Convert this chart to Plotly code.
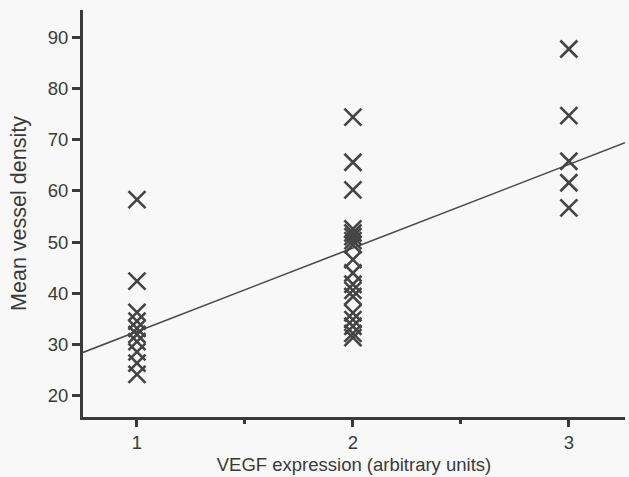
import plotly.graph_objects as go

# Data
vegf_1 = [58.3, 42.4, 36.3, 34.6, 33.2, 32.0, 30.6, 28.6, 26.4, 24.2]
vegf_2 = [74.4, 65.6, 60.2, 52.6, 51.8, 51.1, 50.3, 49.5, 46.6, 44.0,
          41.8, 40.6, 39.4, 36.2, 34.9, 33.6, 32.2, 31.4]
vegf_3 = [87.7, 74.7, 65.8, 61.6, 56.7]

fit_x = [0.75, 3.26]
fit_y = [28.5, 69.4]

x_tick_vals = [1, 2, 3]
y_tick_vals = [20, 30, 40, 50, 60, 70, 80, 90]

xs = [1] * len(vegf_1) + [2] * len(vegf_2) + [3] * len(vegf_3)
ys = vegf_1 + vegf_2 + vegf_3

ink = "#3a3a3a"

fig = go.Figure()
fig.add_trace(go.Scatter(
    x=fit_x, y=fit_y, mode="lines",
    line=dict(color="#4a4a4a", width=1.6),
    showlegend=False, hoverinfo="skip"))
fig.add_trace(go.Scatter(
    x=xs, y=ys, mode="markers",
    marker=dict(symbol="x-thin-open", size=17, color="#444444",
                line=dict(color="#444444", width=2.6)),
    showlegend=False))

font_fam = "Liberation Sans, Arial, sans-serif"
fig.update_layout(
    width=629, height=477,
    margin=dict(l=83, r=4, t=10, b=60),
    paper_bgcolor="#f8f8f8", plot_bgcolor="#f8f8f8",
    font=dict(family=font_fam, size=18, color=ink),
    xaxis=dict(
        range=[0.75, 3.26], tickvals=x_tick_vals,
        ticktext=[str(v) for v in x_tick_vals],
        showgrid=False, zeroline=False, automargin=False,
        showline=True, linecolor=ink, linewidth=3,
        ticks="outside", ticklen=7, tickwidth=3, tickcolor=ink,
        minor=dict(dtick=0.5, ticks="outside", ticklen=4, tickwidth=3,
                   tickcolor=ink, showgrid=False),
        title=dict(text="VEGF expression (arbitrary units)",
                   font=dict(size=18.5), standoff=6),
        tickfont=dict(size=18.5)),
    yaxis=dict(
        range=[15.9, 95.3], tickvals=y_tick_vals,
        showgrid=False, zeroline=False, automargin=False,
        showline=True, linecolor=ink, linewidth=3,
        ticks="outside", ticklen=8, tickwidth=3, tickcolor=ink,
        title=dict(text="Mean vessel density", font=dict(size=21.5), standoff=16),
        tickfont=dict(size=18.5)),
)

fig.write_html("out.html", config={"displayModeBar": False},
               post_script="document.body.style.margin='0';document.body.style.padding='0';")
